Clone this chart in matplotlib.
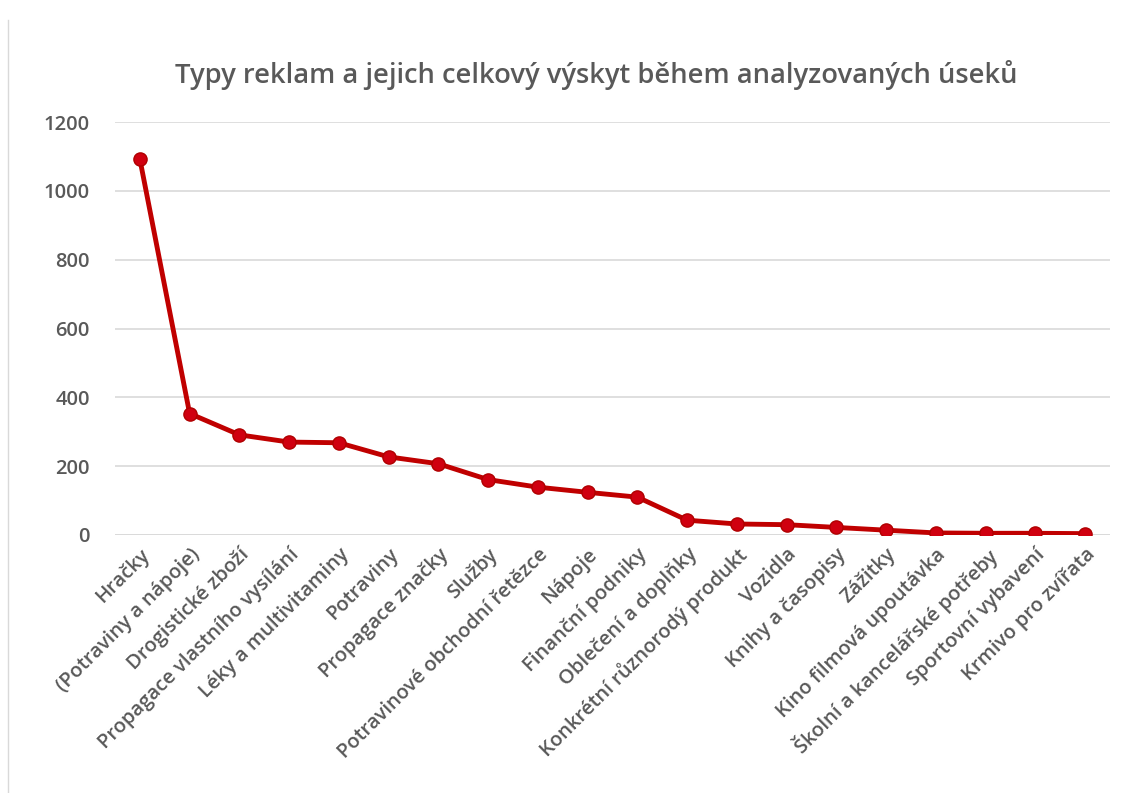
import matplotlib.pyplot as plt

kategorie = ['Hračky', '(Potraviny a nápoje)', 'Drogistické zboží', 'Propagace vlastního vysílání',
             'Léky a multivitaminy', 'Potraviny', 'Propagace značky', 'Služby',
             'Potravinové obchodní řetězce', 'Nápoje', 'Finanční podniky', 'Oblečení a doplňky',
             'Konkrétní různorodý produkt', 'Vozidla', 'Knihy a časopisy', 'Zážitky',
             'Kino filmová upoutávka', 'Školní a kancelářské potřeby', 'Sportovní vybavení',
             'Krmivo pro zvířata']
vyskyt = [1092, 353, 291, 270, 268, 227, 207, 161, 139, 124, 110, 43, 32, 30, 22, 14, 6, 5, 5, 4]
osa_y = [0, 200, 400, 600, 800, 1000, 1200]

plt.rcParams['font.family'] = ['Open Sans', 'DejaVu Sans']
seda = '#595959'

fig = plt.figure(figsize=(11.33, 7.93), dpi=100)
ax = fig.add_axes([115 / 1133, 1 - 535 / 793, 995 / 1133, 413 / 793])

x = range(len(kategorie))
ax.plot(x, vyskyt, color='#C00000', linewidth=3.5, marker='o', markersize=9.5,
        markerfacecolor='#D00010', markeredgecolor='#B00000', zorder=3)

ax.set_xlim(-0.5, len(kategorie) - 0.5)
ax.set_ylim(0, 1200)
ax.set_yticks(osa_y)
ax.set_yticklabels([str(v) for v in osa_y], fontsize=14.5, color=seda, fontweight='semibold')
ax.set_xticks(list(x))
ax.set_xticklabels(kategorie, rotation=45, ha='right', rotation_mode='anchor',
                   fontsize=14.5, color=seda, fontweight='semibold')
ax.tick_params(axis='both', length=0)
ax.tick_params(axis='y', pad=18)
ax.tick_params(axis='x', pad=7)
ax.grid(axis='y', color='#D9D9D9', linewidth=1.2)
ax.set_axisbelow(True)
for s in ax.spines.values():
    s.set_visible(False)
ax.axhline(0, color='#D9D9D9', linewidth=1.2, zorder=1)

fig.text(596 / 1133, 1 - 75 / 793, 'Typy reklam a jejich celkový výskyt během analyzovaných úseků',
         ha='center', va='center', fontsize=19.7, color=seda, fontweight='semibold')

fig.add_artist(plt.Line2D([8 / 1133, 8 / 1133], [0, 1 - 20 / 793], color='#D9D9D9', linewidth=1))

fig.savefig('out.png', dpi=100)
